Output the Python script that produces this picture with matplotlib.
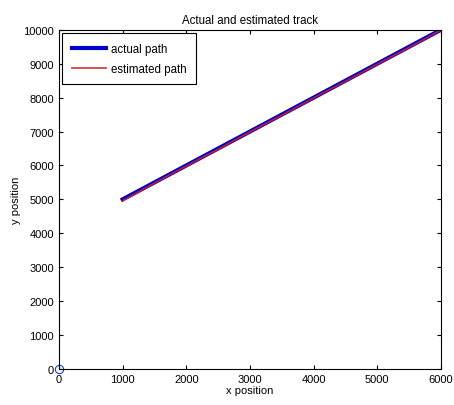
import matplotlib
matplotlib.use('Agg')
import matplotlib.pyplot as plt

plt.rcParams['font.family'] = ['Liberation Sans', 'DejaVu Sans']

# actual track
actual_x = [1000, 2000, 3000, 4000, 5000, 6000]
actual_y = [5000, 6000, 7000, 8000, 9000, 10000]

# estimated track (slightly noisy, close to the actual one)
est_x = [1000, 1500, 2000, 2500, 3000, 3500, 4000, 4500, 5000, 5500, 6000]
est_y = [4960, 5480, 5985, 6475, 6990, 7480, 7990, 8480, 8985, 9480, 9990]

start_x = [0]
start_y = [0]

fig = plt.figure(figsize=(4.54, 4.06), dpi=100)
ax = fig.add_axes([0.130, 0.089, 0.841, 0.835])

ax.plot(actual_x, actual_y, color='#0000c8', linewidth=3.0, label='actual path')
ax.plot(est_x, est_y, color='#d42020', linewidth=1.3, alpha=0.85, label='estimated path')
ax.plot(start_x, start_y, 'o', markerfacecolor='none', markeredgecolor='#2040c0',
        markersize=6, markeredgewidth=0.8, clip_on=False)

ax.set_xlim(0, 6000)
ax.set_ylim(0, 10000)
ax.set_xticks(range(0, 7000, 1000))
ax.set_yticks(range(0, 11000, 1000))
ax.tick_params(direction='in', labelsize=8, length=3, top=True, right=True)
ax.set_xlabel('x position', fontsize=8, labelpad=1)
ax.set_ylabel('y position', fontsize=8, labelpad=2)
ax.set_title('Actual and estimated track', fontsize=8.3, pad=5)
for s in ax.spines.values():
    s.set_linewidth(0.8)

leg = ax.legend(loc='upper left', fontsize=8.3, fancybox=False, framealpha=1,
                edgecolor='black', borderaxespad=0.3, handlelength=3.0,
                handletextpad=0.4, borderpad=0.8, labelspacing=0.7)
leg.get_frame().set_linewidth(0.8)

plt.savefig('out.png', dpi=100)
